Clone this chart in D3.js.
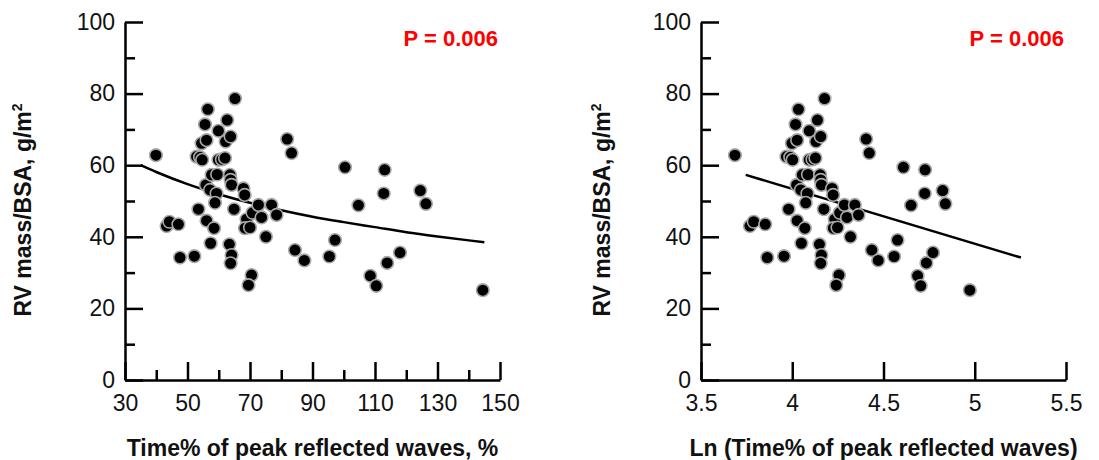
<!DOCTYPE html>
<html>
<head>
<meta charset="utf-8">
<script src="https://cdn.jsdelivr.net/npm/d3@7"></script>
<style>
  body { margin: 0; background: #fff; }
  svg { display: block; font-family: "Liberation Sans", Arial, sans-serif; }
</style>
</head>
<body>
<div id="chart"></div>
<script>
// Time% of peak reflected waves (%) and RV mass/BSA (g/m2)
const timePct = [39.9, 43.3, 44.2, 47.1, 47.6, 52.2, 53.5, 52.9, 54.0, 54.7, 54.5, 56.1, 55.6, 56.5, 55.9, 57.2, 56.1,
  58.5, 57.4, 57.7, 59.5, 59.3, 58.8, 59.9, 59.9, 61.0, 62.0, 62.7, 62.2, 63.8, 63.6, 63.8, 64.1, 63.4, 64.1, 63.8,
  65.2, 64.9, 67.9, 68.3, 68.9, 68.4, 70.0, 70.8, 72.7, 73.7, 75.1, 76.9, 78.5, 70.5, 69.5, 81.9, 83.3, 84.4, 87.4,
  95.4, 97.2, 100.4, 104.7, 108.5, 110.4, 112.8, 113.1, 113.9, 118.0, 124.5, 126.3, 144.5];
const lnTimePct = [3.686, 3.768, 3.789, 3.852, 3.863, 3.955, 3.980, 3.968, 3.989, 4.002, 3.998, 4.027, 4.018, 4.034,
  4.024, 4.047, 4.027, 4.069, 4.050, 4.055, 4.086, 4.083, 4.074, 4.093, 4.093, 4.111, 4.127, 4.138, 4.130, 4.156,
  4.153, 4.156, 4.160, 4.149, 4.160, 4.156, 4.177, 4.173, 4.218, 4.224, 4.233, 4.225, 4.248, 4.260, 4.286, 4.300,
  4.319, 4.343, 4.363, 4.256, 4.241, 4.405, 4.422, 4.436, 4.471, 4.558, 4.577, 4.609, 4.651, 4.687, 4.704, 4.726,
  4.728, 4.735, 4.771, 4.824, 4.839, 4.973];
const rvMass = [62.8, 43.0, 44.2, 43.5, 34.2, 34.6, 47.7, 62.4, 62.2, 61.5, 66.1, 67.0, 71.4, 75.6, 54.5, 53.1, 44.5,
  42.4, 38.2, 57.3, 57.4, 52.1, 49.5, 69.6, 61.5, 61.6, 62.0, 72.6, 66.6, 68.0, 57.3, 55.9, 54.5, 37.9, 34.9, 32.6,
  78.6, 47.7, 53.5, 51.7, 44.9, 42.4, 42.6, 46.7, 48.9, 45.4, 40.0, 48.9, 46.1, 29.3, 26.5, 67.3, 63.4, 36.3, 33.4,
  34.5, 39.1, 59.4, 48.8, 29.1, 26.3, 52.1, 58.7, 32.7, 35.6, 52.9, 49.2, 25.1];

// fitted curves
const fitX = [35, 40, 50, 60, 70, 80, 90, 100, 110, 120, 130, 140, 145];
const fitY = [60.0, 58.1, 54.7, 51.9, 49.5, 47.4, 45.6, 44.1, 42.7, 41.3, 40.1, 39.0, 38.5];
const lnFitX = [3.745, 5.253];
const lnFitY = [57.3, 34.2];

// ticks
const yMajor = [0, 20, 40, 60, 80, 100];
const yMinor = [10, 30, 50, 70, 90];
const xMajorLeft = [30, 50, 70, 90, 110, 130, 150];
const xMinorLeft = [40, 60, 80, 100, 120, 140];
const xMajorRight = [3.5, 4, 4.5, 5, 5.5];

const pText = "P = 0.006";
const yTitle = "RV mass/BSA, g/m";

const svg = d3.select("#chart").append("svg")
  .attr("width", 1099)
  .attr("height", 460);

function drawPanel({ left, right, xDomain, xs, ys, lineXs, lineYs, curve, xMajor, xMinor, xFormat, xTitle, titleX }) {
  const top = 22, bottom = 380;
  const x = d3.scaleLinear().domain(xDomain).range([left, right]);
  const y = d3.scaleLinear().domain([0, 100]).range([bottom, top]);

  // minor ticks first (no labels, no domain)
  if (xMinor.length) {
    svg.append("g")
      .attr("transform", `translate(0,${bottom})`)
      .call(d3.axisBottom(x).tickValues(xMinor).tickSizeInner(-10).tickSizeOuter(0).tickFormat(""))
      .call(g => g.select(".domain").remove());
  }
  svg.append("g")
    .attr("transform", `translate(${left},0)`)
    .call(d3.axisLeft(y).tickValues(yMinor).tickSizeInner(-10).tickSizeOuter(0).tickFormat(""))
    .call(g => g.select(".domain").remove());

  // major axes
  const xAxis = svg.append("g")
    .attr("transform", `translate(0,${bottom})`)
    .call(d3.axisBottom(x).tickValues(xMajor).tickSizeInner(-18).tickSizeOuter(0).tickPadding(15).tickFormat(xFormat));
  const yAxis = svg.append("g")
    .attr("transform", `translate(${left},0)`)
    .call(d3.axisLeft(y).tickValues(yMajor).tickSizeInner(-18).tickSizeOuter(0).tickPadding(10));

  svg.selectAll(".tick line, .domain")
    .attr("stroke", "#000")
    .attr("stroke-width", 2.5);
  [xAxis, yAxis].forEach(a => a.selectAll("text")
    .attr("font-family", "\"Liberation Sans\", Arial, sans-serif")
    .attr("font-size", 23)
    .attr("fill", "#111"));

  // fitted line
  const line = d3.line().x(d => x(d[0])).y(d => y(d[1])).curve(curve);
  svg.append("path")
    .datum(lineXs.map((v, i) => [v, lineYs[i]]))
    .attr("fill", "none")
    .attr("stroke", "#000")
    .attr("stroke-width", 2.5)
    .attr("d", line);

  // points
  svg.append("g")
    .selectAll("circle")
    .data(xs.map((v, i) => [v, ys[i]]))
    .join("circle")
    .attr("cx", d => x(d[0]))
    .attr("cy", d => y(d[1]))
    .attr("r", 6.3)
    .attr("fill", "#000")
    .attr("stroke", "#a8a8a8")
    .attr("stroke-width", 1.6);

  // P value
  svg.append("text")
    .attr("x", right - 2)
    .attr("y", 46)
    .attr("text-anchor", "end")
    .attr("font-size", 22)
    .attr("font-weight", "bold")
    .attr("fill", "#ff0000")
    .text(pText);

  // y title
  const yt = svg.append("text")
    .attr("transform", `translate(${titleX},210) rotate(-90)`)
    .attr("text-anchor", "middle")
    .attr("font-size", 23)
    .attr("font-weight", "bold")
    .attr("fill", "#111");
  yt.append("tspan").text(yTitle);
  yt.append("tspan").attr("dy", -9).attr("font-size", 14).text("2");

  // x title
  svg.append("text")
    .attr("x", (left + right) / 2)
    .attr("y", 456)
    .attr("text-anchor", "middle")
    .attr("font-size", 23)
    .attr("font-weight", "bold")
    .attr("fill", "#111")
    .text(xTitle);
}

drawPanel({
  left: 125, right: 500, xDomain: [30, 150],
  xs: timePct, ys: rvMass, lineXs: fitX, lineYs: fitY, curve: d3.curveMonotoneX,
  xMajor: xMajorLeft, xMinor: xMinorLeft, xFormat: d3.format("d"),
  xTitle: "Time% of peak reflected waves, %", titleX: 31
});

drawPanel({
  left: 701, right: 1066, xDomain: [3.5, 5.5],
  xs: lnTimePct, ys: rvMass, lineXs: lnFitX, lineYs: lnFitY, curve: d3.curveLinear,
  xMajor: xMajorRight, xMinor: [], xFormat: d => String(d),
  xTitle: "Ln (Time% of peak reflected waves)", titleX: 610
});
</script>
</body>
</html>
